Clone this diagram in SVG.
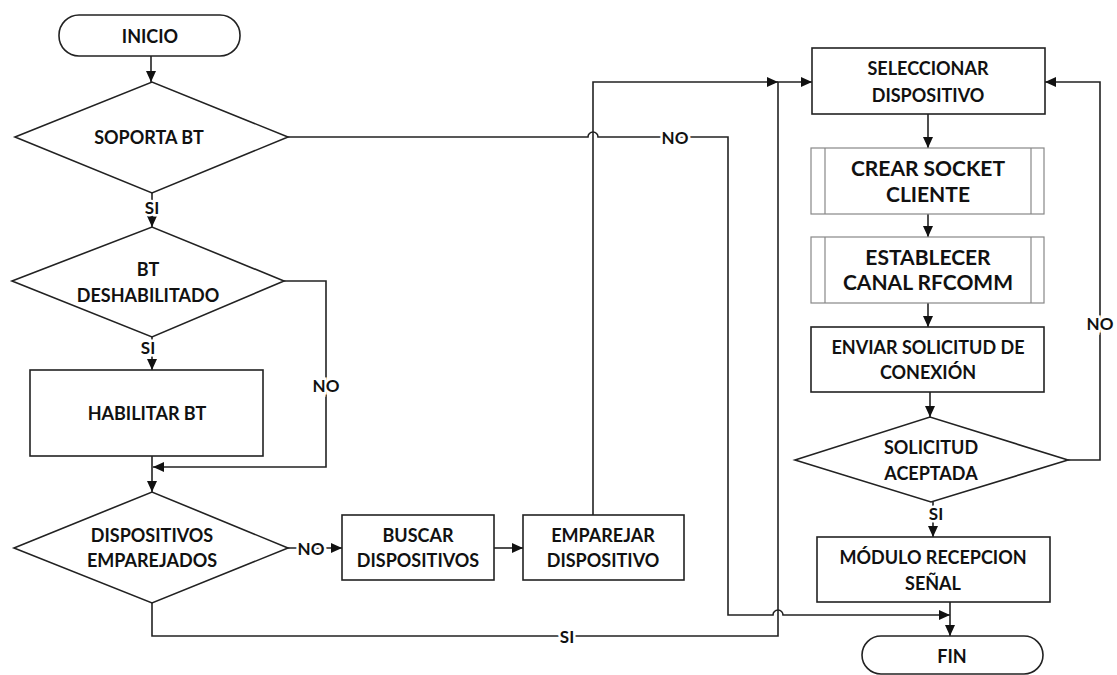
<svg xmlns="http://www.w3.org/2000/svg" width="1117" height="675" viewBox="0 0 1117 675">
<defs>
<marker id="arr" markerUnits="userSpaceOnUse" markerWidth="12" markerHeight="11" refX="11" refY="5" orient="auto">
<path d="M0,0 L11,5 L0,10 z" fill="#111"/>
</marker>
<style>
.shape{fill:#fff;stroke:#222;stroke-width:1.6}
.sub{fill:#fff;stroke:#888;stroke-width:1.2}
.subl{stroke:#888;stroke-width:1.2}
.t{font-family:Lato,"Liberation Sans",sans-serif;font-weight:bold;font-size:18px;fill:#111;text-anchor:middle;dominant-baseline:central}
.tl{font-family:Lato,"Liberation Sans",sans-serif;font-weight:bold;font-size:21px;fill:#111;text-anchor:middle;dominant-baseline:central}
.c{fill:none;stroke:#222;stroke-width:1.6}
.lbl{font-family:Lato,"Liberation Sans",sans-serif;font-weight:bold;font-size:17px;fill:#111;text-anchor:middle;dominant-baseline:central;stroke:#fff;stroke-width:5;paint-order:stroke}
</style>
</defs>
<rect width="1117" height="675" fill="#fff"/>
<g id="connectors">
<path class="c" d="M151,56 V82" marker-end="url(#arr)"/>
<path class="c" d="M152,193 V227" marker-end="url(#arr)"/>
<path class="c" d="M152,337 V370" marker-end="url(#arr)"/>
<path class="c" d="M284,281 H326 V467 H153" marker-end="url(#arr)"/>
<path class="c" d="M152,456 V492" marker-end="url(#arr)"/>
<path class="c" d="M288,548 H342" marker-end="url(#arr)"/>
<path class="c" d="M494,548 H523" marker-end="url(#arr)"/>
<path class="c" d="M593,515 V82 H778" marker-end="url(#arr)"/>
<path class="c" d="M152,603 V636 H778 V82 H812" marker-end="url(#arr)"/>
<path class="c" d="M288,137 H588 A5,5 0 0 1 598,137 H728 V615 H773 A5,5 0 0 1 783,615 H950" marker-end="url(#arr)"/>
<path class="c" d="M928,114 V148" marker-end="url(#arr)"/>
<path class="c" d="M928,214 V237" marker-end="url(#arr)"/>
<path class="c" d="M928,303 V327" marker-end="url(#arr)"/>
<path class="c" d="M930,392 V417" marker-end="url(#arr)"/>
<path class="c" d="M1068,460 H1100 V82 H1045" marker-end="url(#arr)"/>
<path class="c" d="M933,502 V537" marker-end="url(#arr)"/>
<path class="c" d="M950,602 V636" marker-end="url(#arr)"/>
<text class="lbl" x="152" y="207">SI</text>
<text class="lbl" x="148" y="347">SI</text>
<text class="lbl" x="326" y="385">NO</text>
<text class="lbl" x="311" y="548">NO</text>
<text class="lbl" x="567" y="636">SI</text>
<text class="lbl" x="675" y="137">NO</text>
<text class="lbl" x="1100" y="323">NO</text>
<text class="lbl" x="936" y="513">SI</text>
</g>
<g id="inicio">
<rect class="shape" x="59" y="15" width="181" height="41" rx="20"/>
<text class="t" x="150" y="36">INICIO</text>
</g>
<g id="soporta-bt">
<polygon class="shape" points="15,137 152,82 288,137 152,193"/>
<text class="t" x="149" y="137">SOPORTA BT</text>
</g>
<g id="bt-deshabilitado">
<polygon class="shape" points="12,281 152,227 284,281 152,337"/>
<text class="t" x="148" y="269">BT</text>
<text class="t" x="148" y="295">DESHABILITADO</text>
</g>
<g id="habilitar-bt">
<rect class="shape" x="30" y="370" width="233" height="86"/>
<text class="t" x="147" y="413">HABILITAR BT</text>
</g>
<g id="dispositivos-emparejados">
<polygon class="shape" points="14,548 152,492 288,548 152,603"/>
<text class="t" x="152" y="535">DISPOSITIVOS</text>
<text class="t" x="152" y="560">EMPAREJADOS</text>
</g>
<g id="buscar">
<rect class="shape" x="342" y="515" width="152" height="65"/>
<text class="t" x="418" y="535">BUSCAR</text>
<text class="t" x="418" y="560">DISPOSITIVOS</text>
</g>
<g id="emparejar">
<rect class="shape" x="523" y="515" width="161" height="65"/>
<text class="t" x="603" y="535">EMPAREJAR</text>
<text class="t" x="603" y="560">DISPOSITIVO</text>
</g>
<g id="seleccionar">
<rect class="shape" x="812" y="48" width="233" height="66"/>
<text class="t" x="928" y="68">SELECCIONAR</text>
<text class="t" x="928" y="95">DISPOSITIVO</text>
</g>
<g id="crear-socket">
<rect class="sub" x="811" y="148" width="233" height="66"/>
<line class="subl" x1="825" y1="148" x2="825" y2="214"/>
<line class="subl" x1="1031" y1="148" x2="1031" y2="214"/>
<text class="tl" x="928" y="167">CREAR SOCKET</text>
<text class="tl" x="928" y="193">CLIENTE</text>
</g>
<g id="establecer-canal">
<rect class="sub" x="811" y="237" width="233" height="66"/>
<line class="subl" x1="825" y1="237" x2="825" y2="303"/>
<line class="subl" x1="1031" y1="237" x2="1031" y2="303"/>
<text class="tl" x="928" y="256">ESTABLECER</text>
<text class="tl" x="928" y="281">CANAL RFCOMM</text>
</g>
<g id="enviar-solicitud">
<rect class="shape" x="811" y="327" width="233" height="65"/>
<text class="t" x="928" y="347">ENVIAR SOLICITUD DE</text>
<text class="t" x="928" y="372">CONEXIÓN</text>
</g>
<g id="solicitud-aceptada">
<polygon class="shape" points="795,460 930,417 1068,460 931,502"/>
<text class="t" x="931" y="447">SOLICITUD</text>
<text class="t" x="931" y="473">ACEPTADA</text>
</g>
<g id="modulo-recepcion">
<rect class="shape" x="817" y="537" width="233" height="65"/>
<text class="t" x="933" y="557">MÓDULO RECEPCION</text>
<text class="t" x="933" y="583">SEÑAL</text>
</g>
<g id="fin">
<rect class="shape" x="862" y="636" width="181" height="38" rx="19"/>
<text class="t" x="952" y="656">FIN</text>
</g>
</svg>
